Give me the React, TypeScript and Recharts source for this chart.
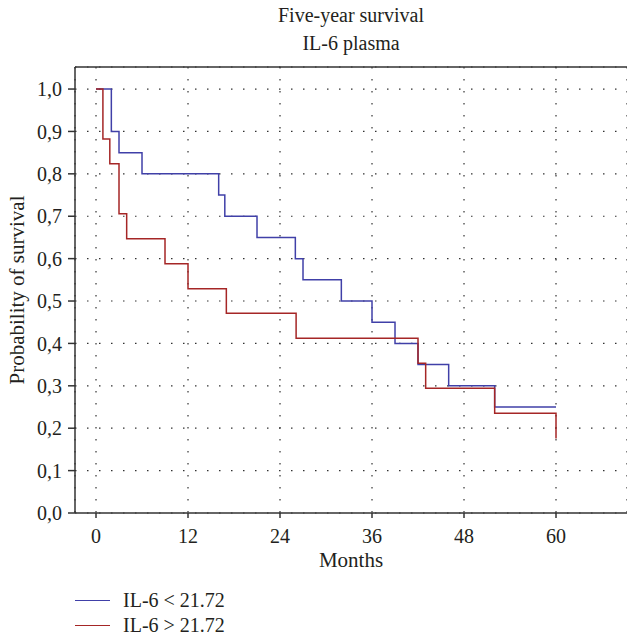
import React from 'react'
import { LineChart, Line, XAxis, YAxis, CartesianGrid, ReferenceLine } from 'recharts'

// Kaplan-Meier steps
const blueMonths = [0, 2, 3, 6, 16, 16.8, 21, 26, 27, 32, 36, 39, 42, 46, 52, 60]
const blueSurvival = [1, 0.9, 0.85, 0.8, 0.75, 0.7, 0.65, 0.6, 0.55, 0.5, 0.45, 0.4, 0.35, 0.3, 0.25, 0.25]
const redMonths = [0, 0.9, 1.8, 3, 4, 9, 12, 17, 26.1, 42, 43, 52, 60]
const redSurvival = [1, 0.882, 0.824, 0.706, 0.647, 0.588, 0.529, 0.471, 0.412, 0.353, 0.294, 0.235, 0.176]

const monthTicks = [0, 12, 24, 36, 48, 60]
const survivalTicks = [0, 0.1, 0.2, 0.3, 0.4, 0.5, 0.6, 0.7, 0.8, 0.9, 1.0]
const seriesNames = ['IL-6 < 21.72', 'IL-6 > 21.72']
const seriesColors = ['#4040a8', '#a52626']

const FONT = '"Liberation Serif", "Times New Roman", serif'

const toPoints = (xs: number[], ys: number[]) => xs.map((t, i) => ({ t, s: ys[i] }))
const blueData = toPoints(blueMonths, blueSurvival)
const redData = toPoints(redMonths, redSurvival)

export default function App() {
    const tickStyle = { fill: '#231f20', fontSize: 20, fontFamily: FONT }
    const labelStyle = { ...tickStyle, fontSize: 21 }
    return (
        <div style={{ position: 'absolute', left: 0, top: 0, width: 627, height: 637, background: '#fff', fontFamily: FONT, color: '#231f20' }}>
            <div style={{ position: 'absolute', left: 75, width: 552, top: 1, textAlign: 'center', fontSize: 20, lineHeight: '28px' }}>
                <div>Five-year survival</div>
                <div>IL-6 plasma</div>
            </div>
            <LineChart width={627} height={637} data={blueData} margin={{ top: 67, right: 0, bottom: 66, left: 0 }}>
                <CartesianGrid stroke="#333" strokeDasharray="1.5 10.5" strokeWidth={1.2} />
                <XAxis
                    dataKey="t"
                    type="number"
                    domain={[-2.74, 69.26]}
                    ticks={monthTicks}
                    allowDataOverflow
                    height={58}
                    stroke="#333"
                    strokeWidth={1.5}
                    tickSize={5}
                    tickMargin={11}
                    tick={tickStyle}
                    label={{ value: 'Months', position: 'insideBottom', offset: 4, style: labelStyle }}
                />
                <YAxis
                    type="number"
                    domain={[0, 1.052]}
                    ticks={survivalTicks}
                    allowDataOverflow
                    width={75}
                    stroke="#333"
                    strokeWidth={1.5}
                    tickSize={7}
                    tickMargin={6}
                    tick={tickStyle}
                    tickFormatter={(v: number) => v.toFixed(1).replace('.', ',')}
                    label={{ value: 'Probability of survival', angle: -90, position: 'insideLeft', offset: 17, style: { ...labelStyle, textAnchor: 'middle' } }}
                />
                <ReferenceLine y={1.052} stroke="#333" strokeWidth={1.5} />
                <Line data={blueData} dataKey="s" type="stepAfter" stroke={seriesColors[0]} strokeWidth={1.5} dot={false} isAnimationActive={false} name={seriesNames[0]} />
                <Line data={redData} dataKey="s" type="stepAfter" stroke={seriesColors[1]} strokeWidth={1.5} dot={false} isAnimationActive={false} name={seriesNames[1]} />
            </LineChart>
            <div style={{ position: 'absolute', left: 75, top: 588, fontSize: 20, lineHeight: '25px' }}>
                {seriesNames.map((name, i) => (
                    <div key={name} style={{ display: 'flex', alignItems: 'center' }}>
                        <span style={{ display: 'inline-block', width: 35, height: 0, borderTop: `1.5px solid ${seriesColors[i]}`, marginRight: 13 }} />
                        <span>{name}</span>
                    </div>
                ))}
            </div>
        </div>
    )
}
